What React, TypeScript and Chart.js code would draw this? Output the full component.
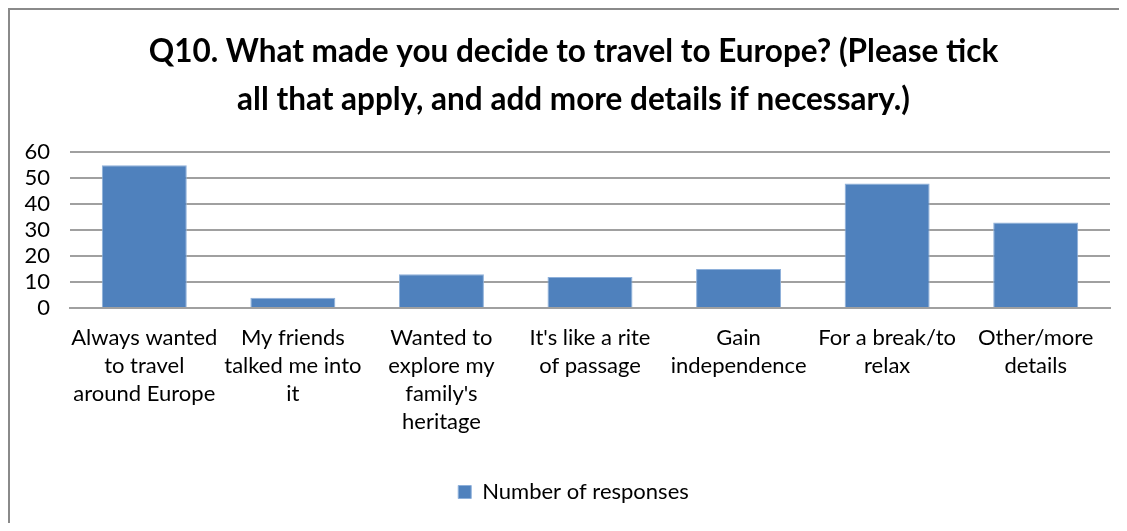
import React, { useEffect, useRef } from "react";
import { Chart, registerables } from "chart.js";

Chart.register(...registerables);

const categories: string[][] = [
  ["Always wanted", "to travel", "around Europe"],
  ["My friends", "talked me into", "it"],
  ["Wanted to", "explore my", "family's", "heritage"],
  ["It's like a rite", "of passage"],
  ["Gain", "independence"],
  ["For a break/to", "relax"],
  ["Other/more", "details"],
];
const responses: number[] = [55, 4, 13, 12, 15, 48, 33];
const seriesName = "Number of responses";
const titleLines = [
  "Q10. What made you decide to travel to Europe? (Please tick",
  "all that apply, and add more details if necessary.)",
];

const FONT = "Lato, 'Open Sans', sans-serif";

export default function App() {
  const ref = useRef<HTMLCanvasElement | null>(null);
  useEffect(() => {
    if (!ref.current) return;
    const chart = new Chart(ref.current, {
      type: "bar",
      data: {
        labels: categories,
        datasets: [
          {
            label: seriesName,
            data: responses,
            backgroundColor: "#4F81BD",
            borderColor: "#8EB0DA",
            borderWidth: 1,
            barPercentage: 0.572,
            categoryPercentage: 1,
          },
        ],
      },
      options: {
        animation: false,
        responsive: false,
        layout: { padding: { left: 0, right: 0, top: 0, bottom: 10 } },
        plugins: {
          title: {
            display: true,
            text: titleLines,
            color: "#000",
            font: { family: FONT, size: 31.5, weight: "bold", lineHeight: 1.53 },
            padding: { top: 18, bottom: 28 },
          },
          legend: {
            position: "bottom",
            labels: {
              color: "#000",
              font: { family: FONT, size: 22 },
              boxWidth: 13,
              boxHeight: 13,
              padding: 20,
            },
          },
          tooltip: { enabled: false },
        },
        scales: {
          x: {
            grid: { display: false },
            border: { display: true, color: "#A0A0A0", width: 2 },
            ticks: {
              color: "#000",
              font: { family: FONT, size: 22, lineHeight: 1.273 },
              maxRotation: 0,
              autoSkip: false,
              padding: 8,
            },
            afterFit: (s: any) => {
              s.height = 153;
            },
          },
          y: {
            min: 0,
            max: 60,
            grid: { color: "#A0A0A0", lineWidth: 2, drawTicks: false },
            border: { display: false },
            ticks: {
              stepSize: 10,
              autoSkip: false,
              color: "#000",
              font: { family: FONT, size: 22 },
              padding: 20,
            },
            afterFit: (s: any) => {
              s.width = 60;
            },
          },
          yRight: {
            position: "right",
            min: 0,
            max: 60,
            grid: { display: false, drawTicks: false },
            border: { display: false },
            ticks: { display: false },
            afterFit: (s: any) => {
              s.width = 27;
            },
          },
        },
      },
    });
    return () => chart.destroy();
  }, []);
  return (
    <div
      style={{
        width: 1119,
        height: 515,
        borderTop: "2px solid #8A8A8A",
        borderLeft: "2px solid #8A8A8A",
        boxSizing: "border-box",
        overflow: "hidden",
      }}
    >
      <canvas ref={ref} width={1127} height={513} style={{ display: "block" }} />
    </div>
  );
}
